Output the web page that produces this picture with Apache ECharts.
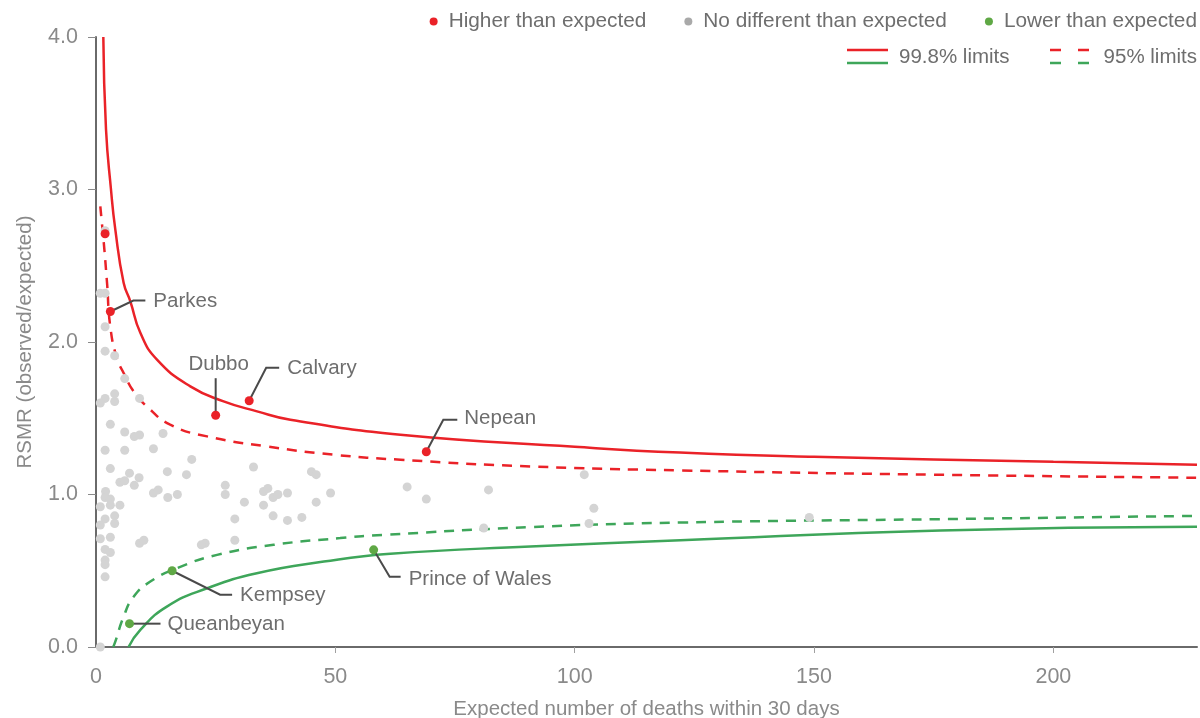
<!DOCTYPE html>
<html>
<head>
<meta charset="utf-8">
<script src="https://cdn.jsdelivr.net/npm/echarts@6/dist/echarts.min.js"></script>
<style>html,body{margin:0;padding:0;background:#fff}#c{width:1200px;height:718px}</style>
</head>
<body>
<div id="c"></div>
<script>
// ---------- data ----------
const xTicks = [0, 50, 100, 150, 200];
const yTicks = [0, 1, 2, 3, 4];

// hospitals not different from expected
const grayE = [1.9,0.9,1.9,1.9,1.9,3.9,6.0,1.9,0.9,3.9,
  3.9,9.1,3.0,6.0,8.0,9.1,14.0,1.9,6.0,12.0,
  20.0,3.0,7.0,14.9,9.0,5.0,6.0,18.9,8.0,2.0,
  12.0,13.0,15.0,17.0,1.9,3.0,0.9,3.0,5.0,1.9,
  3.9,0.9,3.9,0.9,3.0,9.1,10.0,22.8,22.0,1.9,
  3.0,1.9,1.9,1.9,0.9,32.9,45.0,46.0,27.0,27.0,
  35.0,35.9,31.0,35.0,37.0,38.0,40.0,49.0,46.0,29.0,
  37.0,40.0,43.0,29.0,65.0,69.0,82.0,102.0,104.0,103.0,
  81.0,149.0];
const grayR = [2.73,2.32,2.32,2.10,1.94,1.91,1.76,1.63,1.60,1.66,
  1.61,1.63,1.46,1.41,1.38,1.39,1.40,1.29,1.29,1.30,
  1.23,1.17,1.14,1.15,1.11,1.08,1.09,1.13,1.06,1.02,
  1.01,1.03,0.98,1.00,0.98,0.97,0.92,0.93,0.93,0.84,
  0.86,0.80,0.81,0.71,0.72,0.68,0.70,0.68,0.67,0.64,
  0.62,0.57,0.54,0.46,0.0,1.18,1.15,1.13,1.06,1.00,
  1.02,1.04,0.95,0.93,0.98,1.00,1.01,1.01,0.95,0.84,
  0.86,0.83,0.85,0.70,1.05,0.97,1.03,1.13,0.91,0.81,
  0.78,0.85];

// higher than expected
const highNames = ['', 'Parkes', 'Dubbo', 'Calvary', 'Nepean'];
const highE = [1.9, 3.0, 25.0, 32.0, 69.0];
const highR = [2.71, 2.20, 1.52, 1.615, 1.28];

// lower than expected
const lowNames = ['Kempsey', 'Queanbeyan', 'Prince of Wales'];
const lowE = [15.9, 7.0, 58.0];
const lowR = [0.50, 0.153, 0.637];

// control limits
const upper998E = [1.53, 2.09, 3.13, 4.03, 5.77, 7.17, 9.26, 12.74, 19.7, 26.66, 33.64, 40.6, 63.6, 100, 122, 150, 200, 230];
const upper998R = [4.0, 3.395, 3.0, 2.738, 2.388, 2.267, 2.06, 1.884, 1.709, 1.611, 1.545, 1.49, 1.392, 1.313, 1.275, 1.247, 1.215, 1.195];
const upper95E = [0.9, 1.2, 1.6, 2.3, 2.99, 4.39, 5.77, 7.86, 10.99, 15.5, 23.2, 35.7, 49.6, 63.6, 90.7, 122.1, 175, 230];
const upper95R = [2.89, 2.79, 2.66, 2.39, 2.10, 1.89, 1.797, 1.676, 1.567, 1.458, 1.381, 1.315, 1.261, 1.228, 1.184, 1.158, 1.13, 1.11];
const lower998E = [6.8, 9.26, 14.8, 23.2, 33.6, 47.6, 61.5, 90.7, 122.1, 176.4, 230];
const lower998R = [0.0, 0.112, 0.265, 0.385, 0.484, 0.56, 0.611, 0.659, 0.70, 0.764, 0.788];
const lower95E = [3.6, 4.03, 5.77, 7.86, 11.35, 16.9, 25.3, 37.1, 51.0, 60.1, 90.7, 122.1, 175.7, 230];
const lower95R = [0.0, 0.035, 0.199, 0.33, 0.429, 0.517, 0.604, 0.67, 0.714, 0.735, 0.786, 0.816, 0.838, 0.86];

// ---------- styling / annotation layout (pixel offsets from the point) ----------
const labelLayout = {
  'Parkes':          {ex: 23, ey: -11, lx: 35, ly: -11, tx: 43, ty: -10, align: 'left'},
  'Dubbo':           {ex: 0, ey: -37, lx: 0, ly: -37, tx: 3, ty: -51, align: 'center'},
  'Calvary':         {ex: 17, ey: -33, lx: 30, ly: -33, tx: 38, ty: -32, align: 'left'},
  'Nepean':          {ex: 17, ey: -32, lx: 31, ly: -32, tx: 38, ty: -33, align: 'left'},
  'Prince of Wales': {ex: 16, ey: 27, lx: 27, ly: 27, tx: 35, ty: 29, align: 'left'},
  'Kempsey':         {ex: 48, ey: 24, lx: 60, ly: 24, tx: 68, ty: 25, align: 'left'},
  'Queanbeyan':      {ex: 0, ey: 0, lx: 31, ly: 0, tx: 38, ty: 1, align: 'left'}
};

const RED = '#ea2228';
const GREEN_LINE = '#3ea65a';
const GREEN_DOT = '#5fa845';
const GRAY_DOT = '#d4d4d4';
const TEXT = '#6e6e6e';
const AXIS_TEXT = '#8a8a8a';
const FONT = '"Liberation Sans", Arial, sans-serif';
const FS = 20.5;

const zip = (a, b) => a.map((v, i) => [v, b[i]]);

const annData = [];
highNames.forEach((n, i) => { if (n) annData.push({name: n, value: [highE[i], highR[i]]}); });
lowNames.forEach((n, i) => annData.push({name: n, value: [lowE[i], lowR[i]]}));

const chart = echarts.init(document.getElementById('c'), null, {renderer: 'canvas'});

function limitSeries(name, E, R, color, dashed) {
  return {
    type: 'line', name: name, data: zip(E, R), showSymbol: false, symbol: 'none',
    smooth: 0.5, silent: true, z: 2,
    lineStyle: {color: color, width: 2.5, type: dashed ? [10, 8] : 'solid'}
  };
}

chart.setOption({
  animation: false,
  textStyle: {fontFamily: FONT},
  grid: {left: 96, right: 3, top: 37, bottom: 71, containLabel: false, outerBoundsMode: 'none'},
  legend: {
    right: 3, top: 11, padding: 0, itemWidth: 8, itemHeight: 8, itemGap: 38, icon: 'circle',
    textStyle: {fontSize: 20.8, color: TEXT, fontFamily: FONT, padding: [0, 0, 0, 6]},
    selectedMode: false,
    data: [
      {name: 'Higher than expected', itemStyle: {color: RED}},
      {name: 'No different than expected', itemStyle: {color: '#a9a9a9'}},
      {name: 'Lower than expected', itemStyle: {color: GREEN_DOT}}
    ]
  },
  xAxis: {
    type: 'value', min: 0, max: 230, interval: 50,
    name: 'Expected number of deaths within 30 days', nameLocation: 'middle', nameGap: 52,
    nameTextStyle: {fontSize: FS, color: AXIS_TEXT, fontFamily: FONT},
    axisLine: {show: true, onZero: false, lineStyle: {color: '#6a6a6a', width: 2}},
    axisTick: {show: true, length: 6, lineStyle: {color: '#a0a0a0', width: 1},
      customValues: xTicks.filter(v => v > 0)},
    axisLabel: {fontSize: 21.5, color: AXIS_TEXT, margin: 19, fontFamily: FONT,
      customValues: xTicks},
    splitLine: {show: false}
  },
  yAxis: {
    type: 'value', min: 0, max: 4, interval: 1,
    name: 'RSMR (observed/expected)', nameLocation: 'middle', nameGap: 60, nameRotate: 90,
    nameTextStyle: {fontSize: FS, color: AXIS_TEXT, fontFamily: FONT},
    axisLine: {show: true, lineStyle: {color: '#6a6a6a', width: 2}},
    axisTick: {show: true, length: 8, lineStyle: {color: '#8a8a8a', width: 1}, customValues: yTicks},
    axisLabel: {fontSize: 21.5, color: AXIS_TEXT, margin: 18, fontFamily: FONT,
      formatter: v => v.toFixed(1), customValues: yTicks},
    splitLine: {show: false}
  },
  series: [
    limitSeries('upper998', upper998E, upper998R, RED, false),
    limitSeries('upper95', upper95E, upper95R, RED, true),
    limitSeries('lower998', lower998E, lower998R, GREEN_LINE, false),
    limitSeries('lower95', lower95E, lower95R, GREEN_LINE, true),
    {
      type: 'scatter', name: 'No different than expected', data: zip(grayE, grayR),
      symbolSize: 9, itemStyle: {color: GRAY_DOT, opacity: 1}, z: 3, silent: true
    },
    {
      type: 'custom', name: 'annotations', data: annData, z: 4, silent: true, clip: false,
      renderItem: function (params, api) {
        const d = annData[params.dataIndex];
        const L = labelLayout[d.name];
        const p = api.coord([api.value(0), api.value(1)]);
        return {
          type: 'group',
          children: [
            {type: 'polyline', shape: {points: [[p[0], p[1]], [p[0] + L.ex, p[1] + L.ey], [p[0] + L.lx, p[1] + L.ly]]},
              style: {stroke: '#4a4a4a', lineWidth: 2, fill: null}},
            {type: 'text', style: {text: d.name, x: p[0] + L.tx, y: p[1] + L.ty, fill: TEXT,
              font: FS + 'px ' + FONT, textAlign: L.align, textVerticalAlign: 'middle', verticalAlign: 'middle'}}
          ]
        };
      }
    },
    {
      type: 'scatter', name: 'Higher than expected', data: zip(highE, highR),
      symbolSize: 9, itemStyle: {color: RED, opacity: 1}, z: 5, silent: true
    },
    {
      type: 'scatter', name: 'Lower than expected', data: zip(lowE, lowR),
      symbolSize: 9, itemStyle: {color: GREEN_DOT, opacity: 1}, z: 5, silent: true
    }
  ],
  graphic: [
    {type: 'line', shape: {x1: 847, y1: 50, x2: 888, y2: 50}, style: {stroke: RED, lineWidth: 2.5}},
    {type: 'line', shape: {x1: 847, y1: 63, x2: 888, y2: 63}, style: {stroke: GREEN_LINE, lineWidth: 2.5}},
    {type: 'text', style: {text: '99.8% limits', x: 899, y: 57, fill: TEXT, font: FS + 'px ' + FONT,
      textVerticalAlign: 'middle', verticalAlign: 'middle'}},
    {type: 'line', shape: {x1: 1050, y1: 50, x2: 1091, y2: 50}, style: {stroke: RED, lineWidth: 2.5, lineDash: [11, 17]}},
    {type: 'line', shape: {x1: 1050, y1: 63, x2: 1091, y2: 63}, style: {stroke: GREEN_LINE, lineWidth: 2.5, lineDash: [11, 17]}},
    {type: 'text', style: {text: '95% limits', x: 1197, y: 57, fill: TEXT, font: FS + 'px ' + FONT,
      textAlign: 'right', textVerticalAlign: 'middle', verticalAlign: 'middle'}}
  ]
});
</script>
</body>
</html>
